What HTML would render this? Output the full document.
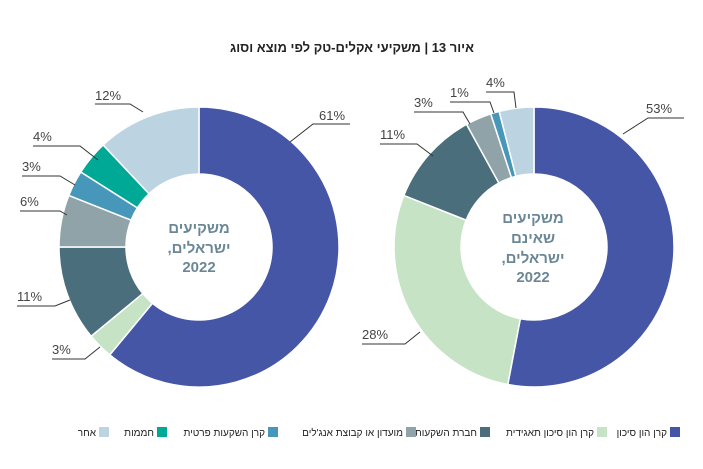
<!DOCTYPE html>
<html><head><meta charset="utf-8"><style>
body{margin:0;background:#fff;width:703px;height:464px;overflow:hidden;font-family:"Liberation Sans","Noto Sans CJK SC",sans-serif}
</style></head><body>
<svg id="s" width="703" height="464" xmlns="http://www.w3.org/2000/svg" font-family="Liberation Sans, Noto Sans CJK SC, sans-serif">
<text x="352" y="52" text-anchor="middle" font-size="13" font-weight="bold" fill="#222" direction="rtl">איור 13 | משקיעי אקלים-טק לפי מוצא וסוג</text>
<g id="d"></g>
<g fill="#6b8797" font-weight="bold" font-size="15" text-anchor="middle" direction="rtl">
<text x="199" y="233">משקיעים</text><text x="199" y="253">ישראלים,</text><text x="199" y="272">2022</text>
<text x="533" y="223">משקיעים</text><text x="533" y="243">שאינם</text><text x="533" y="263">ישראלים,</text><text x="533" y="282">2022</text>
</g>
<g fill="#444" font-size="13" stroke="none">
<text x="319" y="120">61%</text><text x="95" y="100">12%</text><text x="33" y="141">4%</text><text x="22" y="171">3%</text>
<text x="20" y="206">6%</text><text x="17" y="301">11%</text><text x="52" y="354">3%</text>
<text x="646" y="113">53%</text><text x="362" y="339">28%</text><text x="380" y="139">11%</text><text x="414" y="107">3%</text><text x="450" y="97">1%</text><text x="486" y="87">4%</text>
</g>
<g stroke="#333" stroke-width="1" fill="none">
<polyline points="290,142 313,124 350,124"/>
<polyline points="95,104 130,104 143,112"/>
<polyline points="33,146 80,146 98,160"/>
<polyline points="22,176 60,176 75,185"/>
<polyline points="20,211 60,211 67,215"/>
<polyline points="17,306 55,306 70,300"/>
<polyline points="52,359 85,359 100,347"/>
<polyline points="623,134 648,118 684,118"/>
<polyline points="362,344 405,344 420,332"/>
<polyline points="380,144 417,144 433,156"/>
<polyline points="414,112 463,112 470,124"/>
<polyline points="450,102 490,102 494,113"/>
<polyline points="486,92 514,92 516,108"/>
</g>
<g id="lg" font-size="10" fill="#222" direction="rtl"></g>
</svg>
<script>
var C=['#4656a6','#c6e3c6','#4a6e7b','#90a3a8','#4797bb','#00a896','#bcd4e2'];
function donut(cx,cy,R,r,vals,cols){var g=document.getElementById('d'),a=0,tot=vals.reduce((x,y)=>x+y,0),h='';
vals.forEach(function(v,i){var a0=a/tot*2*Math.PI,a1=(a+v)/tot*2*Math.PI;a+=v;
function p(rr,t){return [cx+rr*Math.sin(t),cy-rr*Math.cos(t)];}
var l=(a1-a0)>Math.PI?1:0,A=p(R,a0),B=p(R,a1),Cc=p(r,a1),D=p(r,a0);
h+='<path d="M'+A+' A'+R+','+R+' 0 '+l+' 1 '+B+' L'+Cc+' A'+r+','+r+' 0 '+l+' 0 '+D+'Z" fill="'+cols[i]+'" stroke="#fff" stroke-width="1.5"/>';});
g.innerHTML+=h;}
donut(199,247,140,73,[61,3,11,6,3,4,12],C);
donut(534,247,140,73,[53,28,11,3,1,4],[C[0],C[1],C[2],C[3],C[4],C[6]]);
var L=[['קרן הון סיכון',C[0],670],['קרן הון סיכון תאגידית',C[1],597],['חברת השקעות',C[2],480],['מועדון או קבוצת אנג\'לים',C[3],406],['קרן השקעות פרטית',C[4],268],['חממות',C[5],157],['אחר',C[6],99]];
var h='';L.forEach(function(x){h+='<rect x="'+x[2]+'" y="427" width="10" height="10" fill="'+x[1]+'"/><text x="'+(x[2]-3)+'" y="436">'+x[0]+'</text>';});
document.getElementById('lg').innerHTML=h;
</script>
</body></html>
